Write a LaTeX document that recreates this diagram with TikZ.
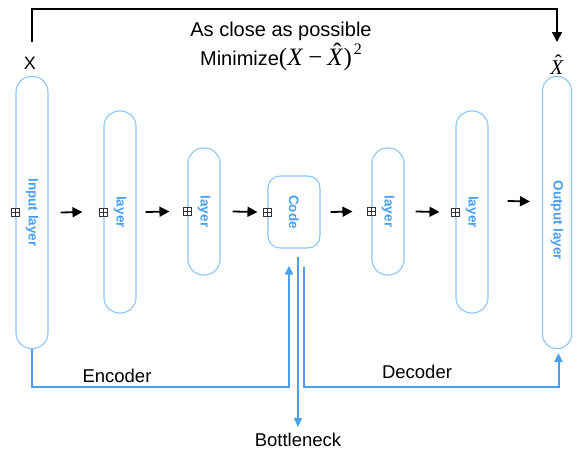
\documentclass[tikz,border=0pt]{standalone}
\usepackage{fontspec}
\setmainfont{Liberation Sans}
\newfontfamily\serifmath{Liberation Serif}
\usetikzlibrary{arrows.meta}
\definecolor{edgeblue}{HTML}{8CC6F6}
\definecolor{textblue}{HTML}{4A9EEE}
\definecolor{linkblue}{HTML}{4A9FF0}
\definecolor{plusgray}{HTML}{333333}
% italic X with a circumflex set above it
\newcommand\xhat{\leavevmode\rlap{\hspace{0.22em}\raisebox{0.2em}{ˆ}}\textit{X}}

\begin{document}
\begin{tikzpicture}[x=1pt,y=-1pt,
  pill/.style={draw=edgeblue, line width=1.1pt, rounded corners=15.5pt,
    minimum width=32pt, inner sep=0pt, text=textblue,
    font=\fontsize{13.5}{13.5}\selectfont\bfseries},
  plusbox/.style={draw=plusgray, fill=white, line width=0.6pt,
    minimum size=8pt, inner sep=0pt,
    path picture={\draw[plusgray, line width=0.6pt]
      (path picture bounding box.north) -- (path picture bounding box.south)
      (path picture bounding box.west) -- (path picture bounding box.east);}},
  flow/.style={draw=black, line width=1.8pt, -{Triangle[length=10pt,width=10pt]}},
  link/.style={draw=linkblue, line width=2pt},
  linkarrow/.style={link, -{Triangle[length=9pt,width=8pt]}},
  caption/.style={inner sep=0pt, font=\fontsize{18.5}{18.5}\selectfont},
  title/.style={inner sep=0pt, font=\fontsize{20}{24}\selectfont},
]
\useasboundingbox (0,0) rectangle (578,455);

% encoder and decoder layers
\node[pill, minimum height=272pt] (in) at (32,212.5) {\rotatebox{-90}{Input layer}};
\node[pill, minimum height=202pt] (l2) at (120,212) {\rotatebox{-90}{layer}};
\node[pill, minimum height=127pt] (l3) at (204,211.5) {\rotatebox{-90}{layer}};
\node[pill, minimum width=52pt, minimum height=72pt, rounded corners=12pt] (code) at (294,212) {\rotatebox{-90}{Code}};
\node[pill, minimum height=127pt] (l5) at (388,211.5) {\rotatebox{-90}{layer}};
\node[pill, minimum height=202pt] (l6) at (472,212) {\rotatebox{-90}{layer}};
\node[pill, minimum width=29pt, minimum height=272pt, rounded corners=14pt] (out) at (557,212.5) {\rotatebox{-90}{\hspace*{16pt}Output layer}};

% input markers on the layers
\foreach \n in {in,l2,l3,code,l5,l6}
  \node[plusbox] (p-\n) at (\n.west) {};

% forward flow between layers
\draw[flow] ([xshift=12pt]in.east) -- ([xshift=-21pt]l2.west);
\draw[flow] ([xshift=9pt]l2.east) -- ([xshift=-18pt]l3.west);
\draw[flow] ([xshift=12pt]l3.east) -- ([xshift=-10pt]code.west);
\draw[flow] ([xshift=10pt]code.east) -- ([xshift=-19pt]l5.west);
\draw[flow] ([xshift=11pt]l5.east) -- ([xshift=-16pt]l6.west);
\draw[flow] ([xshift=19pt,yshift=11pt]l6.east) -- ([xshift=-12pt,yshift=11pt]out.west);

% input and reconstruction labels
\node[inner sep=0pt, font=\fontsize{18}{18}\selectfont] (x) at (30,63.5) {X};
\node[inner sep=0pt, anchor=base, font=\fontsize{21}{21}\selectfont\serifmath] (xh) at (557,74) {\xhat};
\draw[draw=black, line width=1.6pt, -{Triangle[length=10pt,width=10pt]}]
  ([xshift=2pt,yshift=15pt]x.north) -- ++(0,-33) -| (557,42);

\node[title] (close) at (281,31) {As close as possible};
\node[title, anchor=base] (mini) at (281,65) {Minimize{\serifmath\fontsize{25}{25}\selectfont(\textit{X}\hspace{0.2em}−\hspace{0.2em}\xhat)\hspace{0.08em}\raisebox{0.42em}{\fontsize{16}{16}\selectfont 2}}};

% bottleneck connectors
\node[caption, anchor=north] (bn) at (298,433) {Bottleneck};
\draw[linkarrow] (in.south) -- ++(0,37.5) -| ([xshift=-5pt,yshift=-17pt]code.south);
\draw[linkarrow] ([xshift=4pt,yshift=-8pt]code.south) -- ([yshift=6pt]bn.north);
\draw[linkarrow] ([xshift=10pt,yshift=-18pt]code.south) -- ++(0,120) -| ([xshift=1.5pt,yshift=-4pt]out.south);

\node[caption] (enc) at (117,376) {Encoder};
\node[caption] (dec) at (417,372) {Decoder};
\end{tikzpicture}
\end{document}
